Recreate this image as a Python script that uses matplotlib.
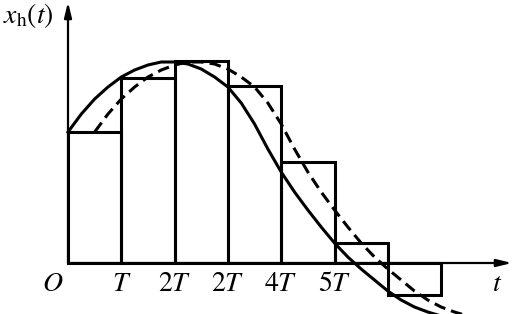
import numpy as np
import matplotlib.pyplot as plt

plt.rcParams['mathtext.fontset'] = 'stix'
plt.rcParams['font.family'] = 'STIXGeneral'

# zero-order hold samples x(kT), k = 0..6
k = [0, 1, 2, 3, 4, 5, 6]
held = [1.31, 1.85, 2.02, 1.77, 1.01, 0.20, -0.32]

# continuous signal, t in units of T
t = [0, 0.25, 0.5, 0.75, 1.0, 1.25, 1.5, 1.75, 2.0, 2.25, 2.5, 2.75, 3.0, 3.25,
     3.5, 3.75, 4.0, 4.25, 4.5, 4.75, 5.0, 5.25, 5.5, 5.75, 6.0, 6.25, 6.5,
     6.75, 7.0]
x = [1.31, 1.49, 1.64, 1.76, 1.86, 1.93, 1.98, 2.01, 2.01, 1.99, 1.94, 1.86,
     1.76, 1.60, 1.39, 1.14, 0.91, 0.71, 0.53, 0.36, 0.20, 0.06, -0.06, -0.17,
     -0.28, -0.37, -0.44, -0.49, -0.53]
delay = 0.5  # half-period lag of the held signal

tick_pos = [1, 2, 3, 4, 5]
tick_txt = ['$T$', '$2T$', '$2T$', '$4T$', '$5T$']

fig = plt.figure(figsize=(5.15, 3.14), dpi=100)
ax = fig.add_axes([0, 0, 1, 1])
ax.set_xlim(-68 / 53.3, 447 / 53.3)
ax.set_ylim(-0.51, 2.63)
ax.axis('off')

# staircase
ax.bar(k, held, width=1, align='edge', fill=False, edgecolor='k', linewidth=2.2)

# original and delayed curves
ax.plot(t, x, color='k', linewidth=2.2)
ax.plot(np.array(t) + delay, x, color='k', linewidth=2.2, linestyle=(0, (3.8, 2.0)))

# axes with arrows
arrow = dict(arrowstyle='-|>,head_length=0.9,head_width=0.22', color='k',
             linewidth=1.6, shrinkA=0, shrinkB=0)
ax.annotate('', xy=(8.33, 0), xytext=(0, 0), arrowprops=arrow)
ax.annotate('', xy=(0, 2.61), xytext=(0, 0), arrowprops=arrow)

for p, s in zip(tick_pos, tick_txt):
    ax.text(p, -0.21, s, ha='center', va='center', fontsize=20)
ax.text(-0.29, -0.21, '$O$', ha='center', va='center', fontsize=20)
ax.text(8.05, -0.21, '$t$', ha='center', va='center', fontsize=20)
ax.text(-0.74, 2.47, r'$x_{\mathrm{h}}(t)$', ha='center', va='center', fontsize=20)

fig.savefig('out.png', dpi=100)
